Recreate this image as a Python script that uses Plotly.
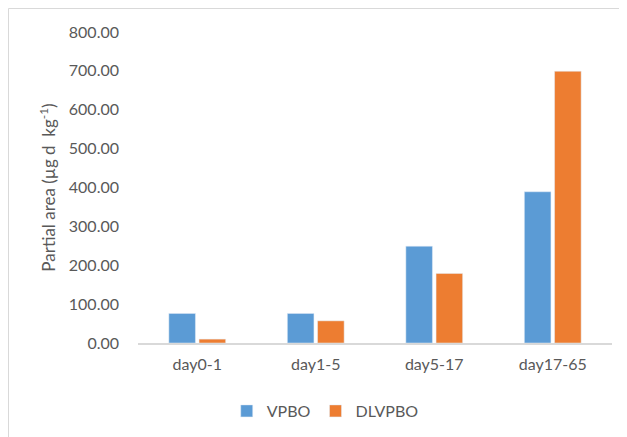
import plotly.graph_objects as go

categories = ["day0-1", "day1-5", "day5-17", "day17-65"]
vpbo = [76, 76, 249, 389]
dlvpbo = [10, 57, 179, 699]
y_ticks = [0, 100, 200, 300, 400, 500, 600, 700, 800]

FONT = "Lato"
GREY = "#595959"
W, H = 619, 429  # page body has an 8px margin

fig = go.Figure()
fig.add_trace(go.Bar(x=categories, y=vpbo, name="VPBO", marker_color="#5B9BD5"))
fig.add_trace(go.Bar(x=categories, y=dlvpbo, name="DLVPBO", marker_color="#ED7D31"))

fig.update_layout(
    width=W, height=H,
    margin=dict(l=130, r=15, t=24, b=94, autoexpand=False),
    paper_bgcolor="white", plot_bgcolor="white",
    barmode="group", bargap=0.49, bargroupgap=0.12,
    font=dict(family=FONT, size=16, color=GREY),
    showlegend=True,
    legend=dict(orientation="h", x=0.395, xanchor="center",
                yref="container", y=1 - 403 / H, yanchor="middle",
                font=dict(size=16, color=GREY), itemwidth=30),
    xaxis=dict(showline=True, linecolor="#D9D9D9", linewidth=1.5, showgrid=False,
               automargin=False, ticks="", tickfont=dict(size=16, color=GREY),
               ticklabelstandoff=6),
    yaxis=dict(range=[0, 800], tickvals=y_ticks, tickformat=".2f", showgrid=False,
               automargin=False, zeroline=False, showline=False, ticks="",
               ticklabelstandoff=18, tickfont=dict(size=16, color=GREY),
               title=dict(text="Partial area (µg d  kg<sup>-1</sup>)", standoff=8,
                          font=dict(size=17, color=GREY))),
    shapes=[dict(type="rect", xref="paper", yref="paper",
                 x0=(8.5 - 138) / 474, x1=1.2, y0=-0.4, y1=(343 - 8.5) / 311,
                 line=dict(color="#D9D9D9", width=1), fillcolor="rgba(0,0,0,0)", layer="below")],
)

fig.write_html("out.html")
